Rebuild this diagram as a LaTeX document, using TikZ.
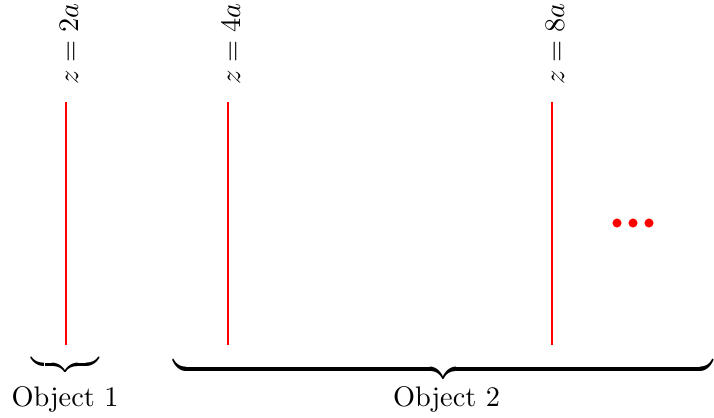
\documentclass[tikz,border=0pt]{standalone}
\begin{document}
\begin{tikzpicture}[x=0.3533pt, y=-0.3533pt,
  zline/.style={red, line width=0.8pt},
  zlabel/.style={rotate=90, anchor=west, inner sep=0pt},
  reddot/.style={circle, fill=red, inner sep=0pt, minimum size=3.2pt},
  bracenode/.style={anchor=north, inner sep=0pt},
  objlabel/.style={anchor=base, inner sep=0pt}]
\useasboundingbox (0,0) rectangle (714,417);
% vertical lines
\coordinate (t1) at (66,102); \coordinate (b1) at (66,345);
\coordinate (t2) at (228,102); \coordinate (b2) at (228,345);
\coordinate (t3) at (552,102); \coordinate (b3) at (552,345);
\draw[zline] (t1) -- (b1);
\draw[zline] (t2) -- (b2);
\draw[zline] (t3) -- (b3);
% labels
\node[zlabel] (l1) at (69,85) {$z=2a$};
\node[zlabel] (l2) at (231,85) {$z=4a$};
\node[zlabel] (l3) at (555,85) {$z=8a$};
% dots
\node[reddot] (d1) at (617,223) {};
\node[reddot] (d2) at (633,223) {};
\node[reddot] (d3) at (649,223) {};
% braces
\node[bracenode] (br1) at (65.5,354) {$\underbrace{\hbox to 23.7pt{}}$};
\node[bracenode] (br2) at (443.5,355) {\scalebox{1}[1.3]{$\underbrace{\hbox to 190.8pt{}}$}};
\node[objlabel] (o1) at (65,406) {Object 1};
\node[objlabel] (o2) at (446.5,406) {Object 2};
\end{tikzpicture}
\end{document}
